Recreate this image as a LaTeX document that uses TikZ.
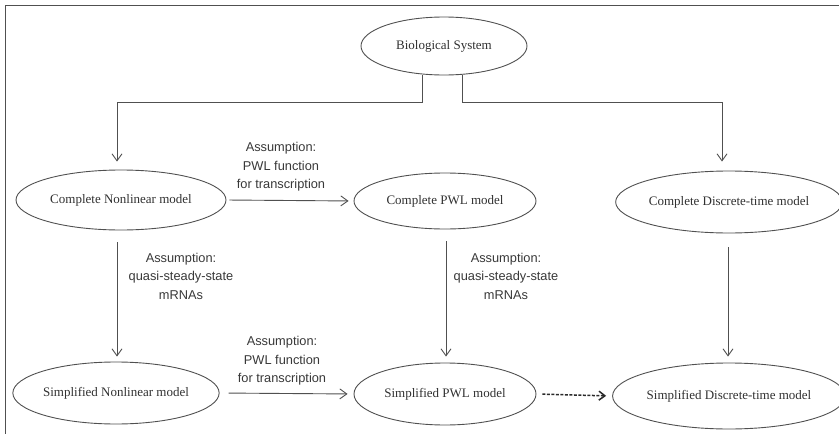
\documentclass[tikz,border=0pt]{standalone}
\usepackage{fontspec}
\setmainfont{Liberation Serif}
\setsansfont{Liberation Sans}
\usetikzlibrary{shapes.geometric,arrows.meta}
\definecolor{linec}{HTML}{505050}
\definecolor{dashc}{HTML}{2A2A2A}
\definecolor{txtc}{HTML}{303030}
\definecolor{labc}{HTML}{383838}
\begin{document}
\begin{tikzpicture}[x=1pt,y=-1pt,
  model/.style={ellipse,draw=linec,line width=0.9pt,inner sep=0pt,font=\fontsize{13}{15}\selectfont,text=txtc},
  conn/.style={draw=linec,line width=0.9pt,-{Straight Barb[length=7pt,width=10pt]}},
  lab/.style={font=\sffamily\fontsize{12.8}{18.5}\selectfont,align=center,text=labc}]
\useasboundingbox (0,0) rectangle (839,434);
\draw[linec,line width=1pt] (5,434) -- (5,5.5) -- (839,5.5);

\node[model,minimum width=166pt,minimum height=58pt] (bio) at (444,46) {Biological System};
\node[model,minimum width=210pt,minimum height=60pt] (cn) at (121,200) {Complete Nonlinear model};
\node[model,minimum width=182pt,minimum height=56pt] (cpwl) at (445,201) {Complete PWL model};
\node[model,minimum width=209pt,minimum height=62pt] (cdt) at (729,202) {Complete Discrete-time model};
\node[model,minimum width=204pt,minimum height=62pt] (sn) at (116,393) {Simplified Nonlinear model};
\node[model,minimum width=182pt,minimum height=62pt] (spwl) at (445,394) {Simplified PWL model};
\node[model,minimum width=210pt,minimum height=66pt] (sdt) at (729,396) {Simplified Discrete-time model};

\coordinate (L) at (117,0);
\coordinate (M) at (446,0);
\coordinate (R) at (722,0);
\coordinate (RR) at (728,0);
\coordinate (bl) at (422,102);
\coordinate (br) at (462,102);

\draw[conn,shorten >=8pt] (bl |- bio.south) -- (bl) -- (L |- bl) -- (L |- cn.north);
\draw[conn,shorten >=9pt] (br |- bio.south) -- (br) -- (R |- br) -- (R |- cdt.north);

\draw[conn,shorten <=3pt,shorten >=5pt] (cn.east) -- (cpwl.west);
\draw[conn,shorten <=9pt,shorten >=6pt] (sn.east) -- (spwl.west);
\draw[conn,draw=dashc,line width=1.5pt,dash pattern=on 3pt off 1.5pt,shorten <=6pt,shorten >=6pt,-{Straight Barb[length=6pt,width=9pt]}] (spwl.east) -- (sdt.west);

\draw[conn,shorten <=12pt,shorten >=5pt] (L |- cn.south) -- (L |- sn.north);
\draw[conn,shorten <=12pt,shorten >=6pt] (M |- cpwl.south) -- (M |- spwl.north);
\draw[conn,shorten <=14pt,shorten >=6pt] (RR |- cdt.south) -- (RR |- sdt.north);

\node[lab] (l1) at (281,167) {Assumption:\\PWL function\\for transcription};
\node[lab] (l2) at (181,276) {Assumption:\\quasi-steady-state\\mRNAs};
\node[lab] (l3) at (506,276) {Assumption:\\quasi-steady-state\\mRNAs};
\node[lab] (l4) at (282,361) {Assumption:\\PWL function\\for transcription};
\end{tikzpicture}
\end{document}
